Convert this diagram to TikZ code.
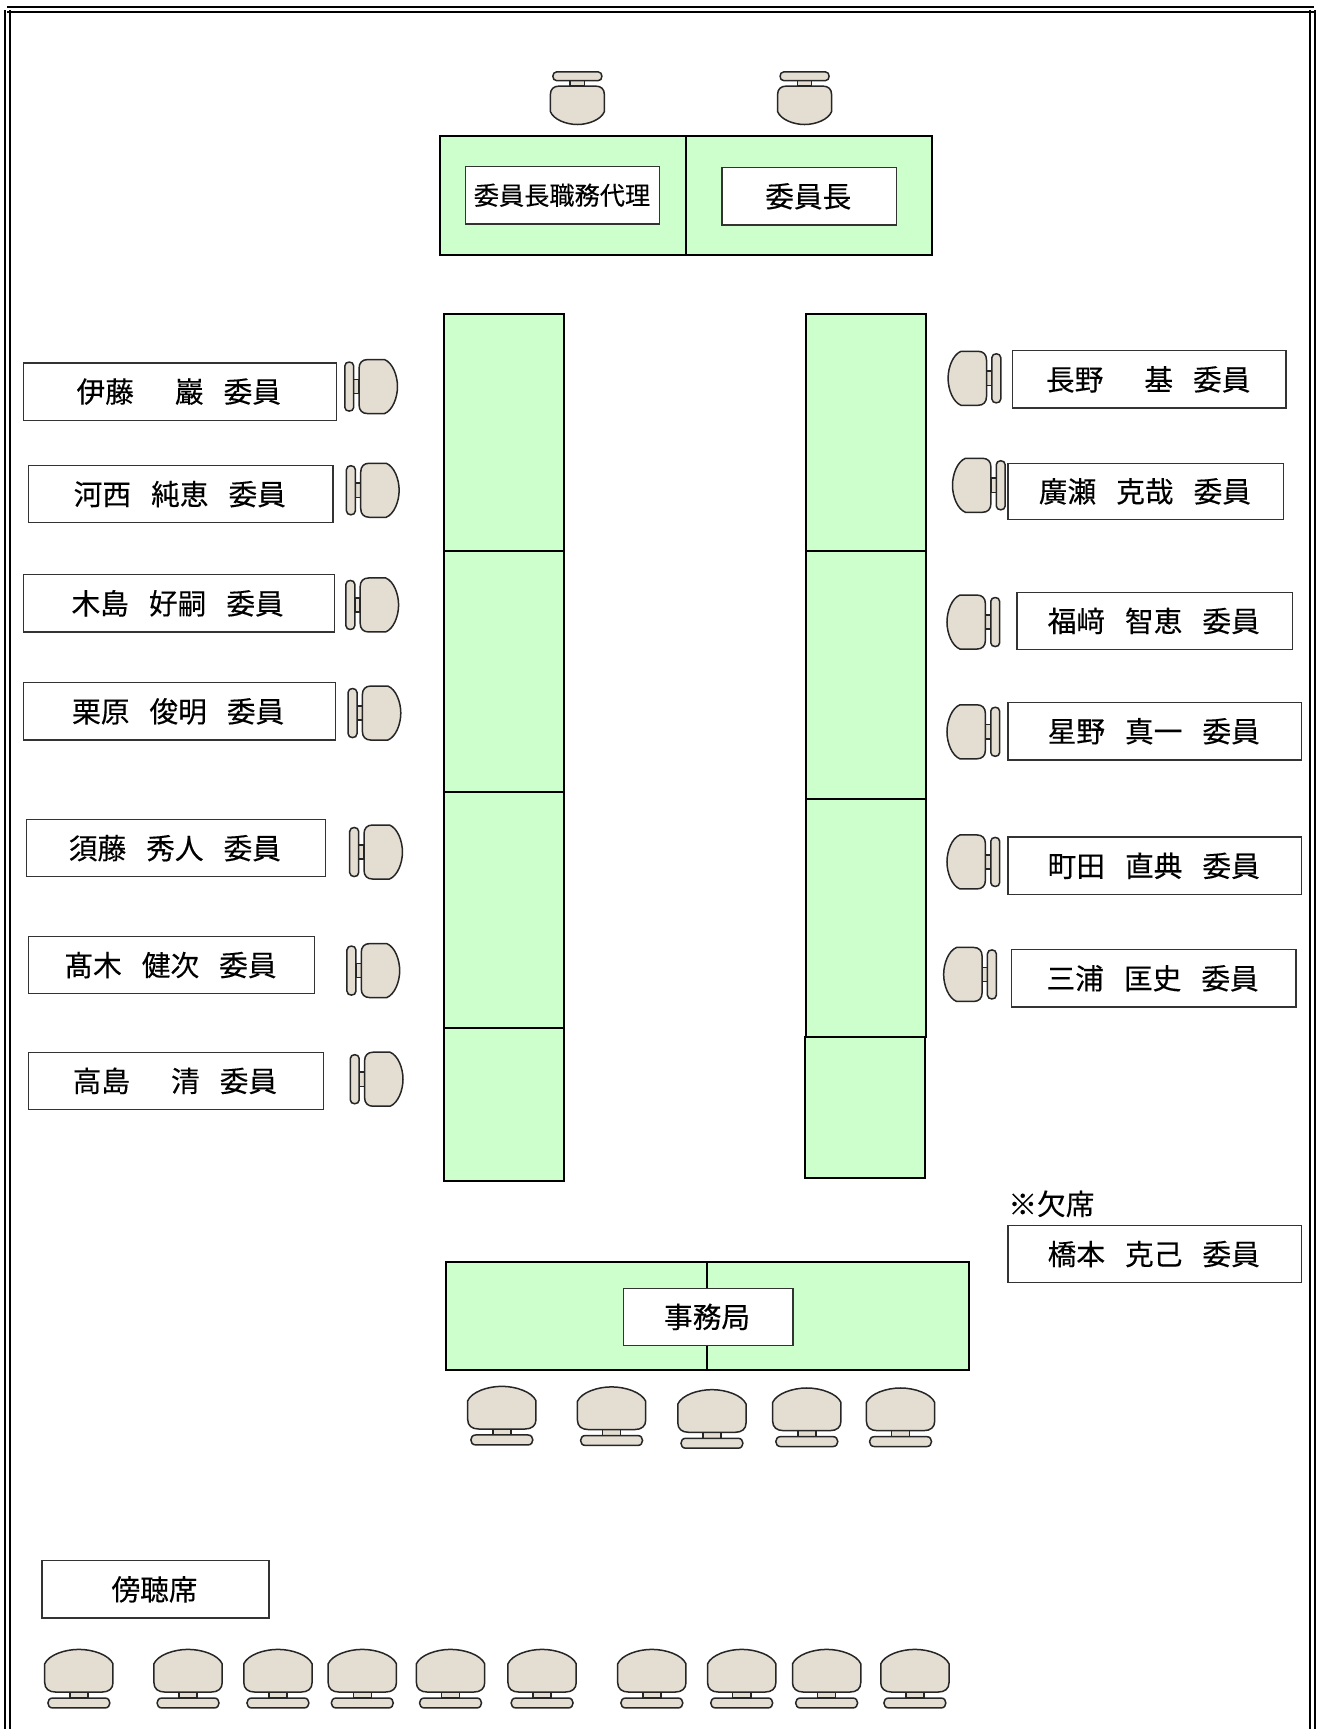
\documentclass[tikz,border=0pt]{standalone}
\usepackage{fontspec}
\setmainfont{Noto Sans CJK JP}[RawFeature={embolden=0.25}]
\usetikzlibrary{calc}
\definecolor{tablegreen}{HTML}{CCFFCC}
\definecolor{chairfill}{HTML}{E3DDD2}
\tikzset{
  frameline/.style={draw=black,line width=2.4pt},
  tablebox/.style={draw=black,fill=tablegreen,line width=2pt},
  labelbox/.style={draw=black!80,fill=white,line width=1.3pt},
  labeltext/.style={inner sep=0pt,xshift=-1pt,font=\fontsize{28.7}{32}\selectfont},
  smalltext/.style={inner sep=0pt,xshift=-.5pt,font=\fontsize{25.2}{28}\selectfont},
  chairpart/.style={draw=black!85,fill=chairfill,line width=1.5pt},
  chair/.pic={
    \path[chairpart] (-9,13.5) rectangle (9,19.5);
    \path[chairpart] (-34,-15)
       .. controls (-30,-24) and (-14,-29.5) .. (0,-29.5)
       .. controls (14,-29.5) and (30,-24) .. (34,-15)
       -- (34,4) .. controls (34,10) and (30,13.5) .. (23,13.5)
       -- (-23,13.5) .. controls (-30,13.5) and (-34,10) .. (-34,4) -- cycle;
    \path[chairpart] (-26,19.5) -- (26,19.5)
       .. controls (32.5,19.5) and (32.5,29.5) .. (26,29.5)
       -- (-26,29.5) .. controls (-32.5,29.5) and (-32.5,19.5) .. (-26,19.5) -- cycle;
  },
  sidechair/.style={xscale=.72,yscale=.81},
  frontchair/.style={xscale=.91,yscale=.90},
}
\newcommand{\lbl}[7][labeltext]{%
  \draw[labelbox] (#3,#4) rectangle (#5,#6);
  \node[#1] (#2) at ($(#3,#4)!.5!(#5,#6)$) {#7};}
\newcommand{\gp}{\hspace{20pt}}
\newcommand{\gl}{\hspace{41pt}}
\begin{document}
\begin{tikzpicture}[x=1.10293pt,y=-1.10293pt]
\useasboundingbox[fill=white] (0,0) rectangle (1195,1567.65);
% outer frame, open at the foot of the page
\draw[frameline] (4.5,1567.65) -- (4.5,9) ;
\draw[frameline] (9,1567.65) -- (9,9);
\draw[frameline] (6.5,6.3) -- (1191.5,6.3);
\draw[frameline] (6.5,10.9) -- (1191.5,10.9);
\draw[frameline] (1187.7,9) -- (1187.7,1567.65);
\draw[frameline] (1192.2,9) -- (1192.2,1567.65);
% tables
\draw[tablebox] (399,123) rectangle (622,231);
\draw[tablebox] (622,123) rectangle (845,231);
\draw[tablebox] (403,285) rectangle (511,500);
\draw[tablebox] (403,500) rectangle (511,718);
\draw[tablebox] (403,718) rectangle (511,932);
\draw[tablebox] (403,932) rectangle (511,1071);
\draw[tablebox] (731,285) rectangle (840,500);
\draw[tablebox] (731,500) rectangle (840,724);
\draw[tablebox] (731,724) rectangle (840,940);
\draw[tablebox] (730,940) rectangle (839,1068);
\draw[tablebox] (404,1144) rectangle (641,1242);
\draw[tablebox] (641,1144) rectangle (879,1242);
% labels
\lbl[smalltext]{vicechair}{422}{151}{598}{203}{委員長職務代理}
\lbl{chairman}{654.5}{152}{813}{204}{委員長}
\lbl{m1}{21}{329}{305}{381}{伊藤\gl 巖\gp 委員}
\lbl{m2}{26}{422}{302}{474}{河西\gp 純恵\gp 委員}
\lbl{m3}{21}{521}{303}{573}{木島\gp 好嗣\gp 委員}
\lbl{m4}{21}{619}{304}{671}{栗原\gp 俊明\gp 委員}
\lbl{m5}{24}{743}{295}{795}{須藤\gp 秀人\gp 委員}
\lbl{m6}{26}{849}{285}{901}{髙木\gp 健次\gp 委員}
\lbl{m7}{26}{954}{293}{1006}{高島\gl 清\gp 委員}
\lbl{m8}{918}{318}{1166}{370}{長野\gl 基\gp 委員}
\lbl{m9}{914}{420}{1164}{471}{廣瀬\gp 克哉\gp 委員}
\lbl{m10}{922}{537}{1172}{589}{福﨑\gp 智恵\gp 委員}
\lbl{m11}{914}{637}{1180}{689}{星野\gp 真一\gp 委員}
\lbl{m12}{914}{759}{1180}{811}{町田\gp 直典\gp 委員}
\lbl{m13}{917}{861}{1175}{913}{三浦\gp 匡史\gp 委員}
\lbl{m14}{914}{1111}{1180}{1163}{橋本\gp 克己\gp 委員}
\node[labeltext,anchor=west] (absent) at (915,1091.5) {※欠席};
\lbl{secretariat}{565}{1168}{719}{1220}{事務局}
\lbl{gallery}{38}{1415}{244}{1467}{傍聴席}
% chairs at the top
\pic[rotate=180,sidechair] at (523.5,89) {chair};
\pic[rotate=180,sidechair] at (729.5,89) {chair};
% chairs on the left
\pic[rotate=-90,sidechair] at (336.5,350.5) {chair};
\pic[rotate=-90,sidechair] at (338,444.5) {chair};
\pic[rotate=-90,sidechair] at (337.5,548.5) {chair};
\pic[rotate=-90,sidechair] at (339.5,646.5) {chair};
\pic[rotate=-90,sidechair] at (341,772.5) {chair};
\pic[rotate=-90,sidechair] at (338.5,880) {chair};
\pic[rotate=-90,sidechair] at (341.5,978.5) {chair};
% chairs on the right
\pic[rotate=90,sidechair] at (883.5,343) {chair};
\pic[rotate=90,sidechair] at (887.5,440) {chair};
\pic[rotate=90,sidechair] at (882.5,564) {chair};
\pic[rotate=90,sidechair] at (882.5,663.5) {chair};
\pic[rotate=90,sidechair] at (882.5,781.5) {chair};
\pic[rotate=90,sidechair] at (879.5,883.5) {chair};
% secretariat chairs
\pic[frontchair] at (455,1283.5) {chair};
\pic[frontchair] at (554.5,1284) {chair};
\pic[frontchair] at (645.5,1286.5) {chair};
\pic[frontchair] at (731.5,1285) {chair};
\pic[frontchair] at (816.5,1285) {chair};
% gallery chairs
\pic[frontchair] at (71.5,1522) {chair};
\pic[frontchair] at (170.5,1522) {chair};
\pic[frontchair] at (252,1522) {chair};
\pic[frontchair] at (328.5,1522) {chair};
\pic[frontchair] at (408.5,1522) {chair};
\pic[frontchair] at (491.5,1522) {chair};
\pic[frontchair] at (591,1522) {chair};
\pic[frontchair] at (672.5,1522) {chair};
\pic[frontchair] at (749.5,1522) {chair};
\pic[frontchair] at (829.5,1522) {chair};
\end{tikzpicture}
\end{document}
